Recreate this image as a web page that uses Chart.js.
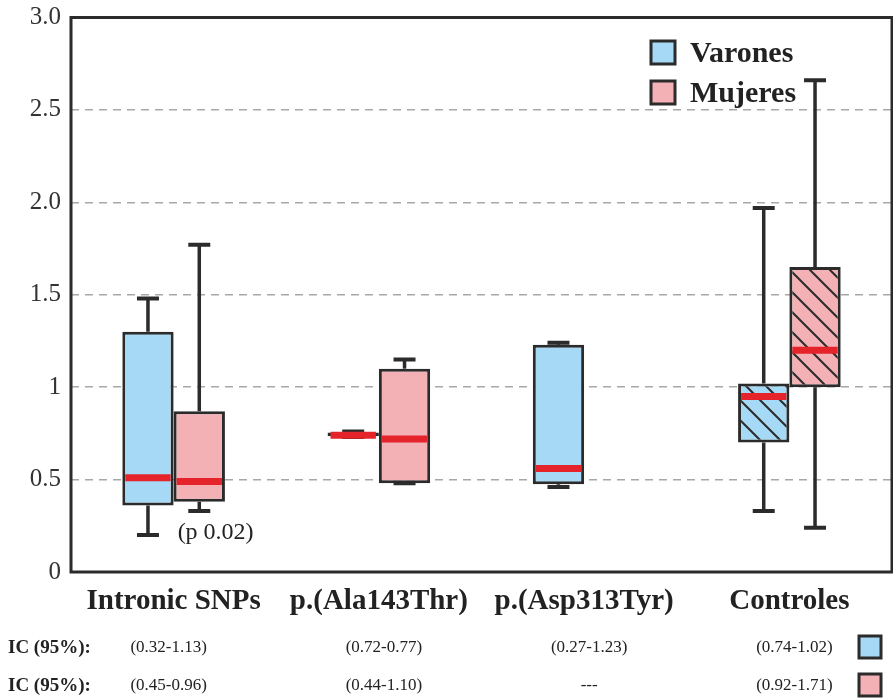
<!DOCTYPE html>
<html>
<head>
<meta charset="utf-8">
<script src="https://cdn.jsdelivr.net/npm/chart.js@4"></script>
<style>
  body { margin: 0; background: #fff; }
  #wrap { width: 893px; height: 698px; }
</style>
</head>
<body>
<div id="wrap"><canvas id="boxChart" width="893" height="698"></canvas></div>
<script>
const categories = ['Intronic SNPs', 'p.(Ala143Thr)', 'p.(Asp313Tyr)', 'Controles'];
const seriesNames = ['Varones', 'Mujeres'];

const varonesMin = [0.20, 0.73, 0.46, 0.33];
const varonesQ1 = [0.36, 0.735, 0.475, 0.70];
const varonesMedian = [0.51, 0.74, 0.56, 0.95];
const varonesQ3 = [1.30, 0.755, 1.23, 1.02];
const varonesMax = [1.48, 0.76, 1.24, 1.97];

const mujeresMin = [0.33, 0.48, null, 0.24];
const mujeresQ1 = [0.38, 0.48, null, 1.00];
const mujeresMedian = [0.49, 0.72, null, 1.20];
const mujeresQ3 = [0.87, 1.10, null, 1.65];
const mujeresMax = [1.77, 1.15, null, 2.66];

const hatched = [false, false, false, true];
const yTickLabels = ['0', '0.5', '1', '1.5', '2.0', '2.5', '3.0'];
const icVarones = ['(0.32-1.13)', '(0.72-0.77)', '(0.27-1.23)', '(0.74-1.02)'];
const icMujeres = ['(0.45-0.96)', '(0.44-1.10)', '---', '(0.92-1.71)'];
const icLabel = 'IC (95%):';
const note = '(p 0.02)';

const BLUE = '#a6d9f5';
const PINK = '#f3b1b6';
const DARK = '#2b2b2b';
const RED = '#e4232a';
const SERIF = '"Liberation Serif", "Times New Roman", serif';

const stats = [
    { min: varonesMin, q1: varonesQ1, med: varonesMedian, q3: varonesQ3, max: varonesMax },
    { min: mujeresMin, q1: mujeresQ1, med: mujeresMedian, q3: mujeresQ3, max: mujeresMax }
];

function hatchPattern(base) {
    const size = 20;
    const c = document.createElement('canvas');
    c.width = size; c.height = size;
    const g = c.getContext('2d');
    g.fillStyle = base;
    g.fillRect(0, 0, size, size);
    g.strokeStyle = DARK;
    g.lineWidth = 2;
    g.beginPath();
    g.moveTo(-2, -2); g.lineTo(size + 2, size + 2);
    g.moveTo(-2, size - 2); g.lineTo(2, size + 2);
    g.moveTo(size - 2, -2); g.lineTo(size + 2, 2);
    g.stroke();
    return g.createPattern(c, 'repeat');
}

function boxData(s) {
    return s.q1.map((v, i) => v == null ? null : [v, s.q3[i]]);
}

function fills(base) {
    const pat = hatchPattern(base);
    return hatched.map(h => h ? pat : base);
}

const boxPlugin = {
    id: 'boxExtras',
    beforeDatasetsDraw(chart) {
        const { ctx, chartArea: a } = chart;
        ctx.save();
        ctx.strokeStyle = DARK;
        ctx.lineWidth = 3;
        ctx.strokeRect(a.left, a.top, a.right - a.left, a.bottom - a.top);
        ctx.restore();
    },
    afterDatasetsDraw(chart) {
        const ctx = chart.ctx;
        const y = chart.scales.y;
        ctx.save();
        chart.data.datasets.forEach((ds, di) => {
            const s = stats[di];
            chart.getDatasetMeta(di).data.forEach((bar, i) => {
                if (s.med[i] == null) return;
                const x = bar.x, half = bar.width / 2;
                ctx.strokeStyle = DARK;
                ctx.lineWidth = 3.5;
                ctx.lineCap = 'butt';
                ctx.beginPath();
                ctx.moveTo(x, y.getPixelForValue(s.q3[i]));
                ctx.lineTo(x, y.getPixelForValue(s.max[i]));
                ctx.moveTo(x, y.getPixelForValue(s.q1[i]));
                ctx.lineTo(x, y.getPixelForValue(s.min[i]));
                ctx.stroke();
                ctx.lineWidth = 4;
                ctx.beginPath();
                ctx.moveTo(x - 11, y.getPixelForValue(s.max[i]));
                ctx.lineTo(x + 11, y.getPixelForValue(s.max[i]));
                ctx.moveTo(x - 11, y.getPixelForValue(s.min[i]));
                ctx.lineTo(x + 11, y.getPixelForValue(s.min[i]));
                ctx.stroke();
                ctx.strokeStyle = RED;
                ctx.lineWidth = 7;
                ctx.beginPath();
                ctx.moveTo(x - half + 3, y.getPixelForValue(s.med[i]));
                ctx.lineTo(x + half - 3, y.getPixelForValue(s.med[i]));
                ctx.stroke();
            });
        });
        ctx.restore();
    },
    afterDraw(chart) {
        const ctx = chart.ctx;
        const x = chart.scales.x, y = chart.scales.y;
        ctx.save();
        ctx.fillStyle = '#222';
        ctx.textBaseline = 'middle';

        // legend
        const legendColors = [BLUE, PINK];
        seriesNames.forEach((name, k) => {
            const top = 41 + k * 40;
            ctx.fillStyle = legendColors[k];
            ctx.fillRect(651, top, 24, 23);
            ctx.strokeStyle = DARK;
            ctx.lineWidth = 3;
            ctx.strokeRect(651, top, 24, 23);
            ctx.fillStyle = '#222';
            ctx.font = 'bold 30px ' + SERIF;
            ctx.textAlign = 'left';
            ctx.fillText(name, 690, top + 13);
        });

        // p value note
        ctx.font = '24px ' + SERIF;
        ctx.textAlign = 'left';
        ctx.fillText(note, x.getPixelForValue(0) + 4, y.getPixelForValue(0.21));

        // IC rows
        const rows = [icVarones, icMujeres];
        const rowColors = [BLUE, PINK];
        rows.forEach((vals, r) => {
            const cy = 648 + r * 38;
            ctx.font = 'bold 19px ' + SERIF;
            ctx.textAlign = 'left';
            ctx.fillStyle = '#222';
            ctx.fillText(icLabel, 8, cy);
            ctx.font = '17px ' + SERIF;
            ctx.textAlign = 'center';
            vals.forEach((v, i) => ctx.fillText(v, x.getPixelForValue(i) + (i === 0 ? -5 : 5), cy));
            ctx.fillStyle = rowColors[r];
            ctx.fillRect(859, cy - 12, 22, 22);
            ctx.strokeStyle = DARK;
            ctx.lineWidth = 3;
            ctx.strokeRect(859, cy - 12, 22, 22);
        });
        ctx.restore();
    }
};

new Chart(document.getElementById('boxChart'), {
    type: 'bar',
    data: {
        labels: categories,
        datasets: [
            {
                label: seriesNames[0],
                data: boxData(stats[0]),
                backgroundColor: fills(BLUE),
                borderColor: DARK,
                borderWidth: 3,
                borderSkipped: false
            },
            {
                label: seriesNames[1],
                data: boxData(stats[1]),
                backgroundColor: fills(PINK),
                borderColor: DARK,
                borderWidth: 3,
                borderSkipped: false
            }
        ]
    },
    options: {
        responsive: false,
        animation: false,
        categoryPercentage: 0.5,
        barPercentage: 1.0,
        layout: { padding: { top: 15, right: 1, left: 0, bottom: 0 } },
        scales: {
            x: {
                grid: { display: false, drawTicks: false },
                border: { display: false },
                ticks: {
                    padding: 12,
                    color: '#222',
                    font: { family: SERIF, size: 29, weight: 'bold' }
                },
                afterFit: function(scale) { scale.height = 126; }
            },
            y: {
                min: 0,
                max: 3,
                grid: {
                    drawTicks: false,
                    lineWidth: 1.5,
                    color: function(c) {
                        const v = c.tick.value;
                        return (v === 0 || v === 3) ? 'rgba(0,0,0,0)' : '#a8a8a8';
                    }
                },
                border: { display: false, dash: [8, 6] },
                ticks: {
                    stepSize: 0.5,
                    padding: 10,
                    color: '#333',
                    font: { family: SERIF, size: 25, lineHeight: 0.6 },
                    callback: function(value, index) {
                        return yTickLabels[index];
                    }
                },
                afterFit: function(scale) { scale.width = 71; }
            }
        },
        plugins: {
            legend: { display: false },
            tooltip: { enabled: false }
        }
    },
    plugins: [boxPlugin]
});
</script>
</body>
</html>
